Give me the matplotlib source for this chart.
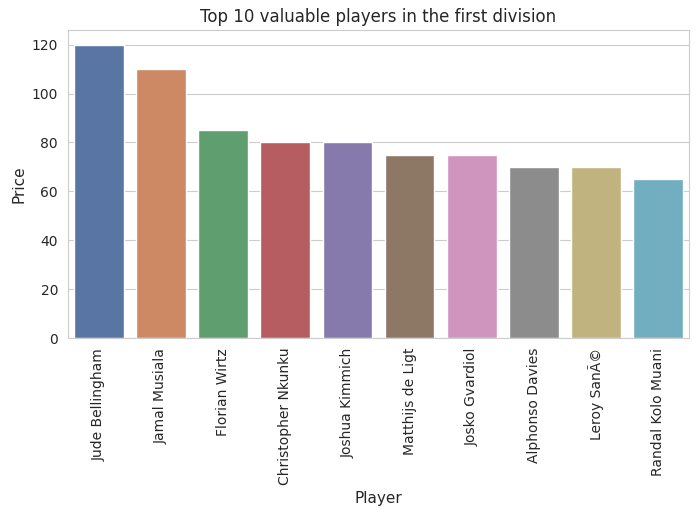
import matplotlib
matplotlib.use("Agg")
import matplotlib.pyplot as plt
import seaborn as sns

players = ["Jude Bellingham", "Jamal Musiala", "Florian Wirtz", "Christopher Nkunku",
           "Joshua Kimmich", "Matthijs de Ligt", "Josko Gvardiol", "Alphonso Davies",
           "Leroy SanÃ©", "Randal Kolo Muani"]
prices = [120, 110, 85, 80, 80, 75, 75, 70, 70, 65]

sns.set_style("whitegrid")
fig, ax = plt.subplots(figsize=(6.99, 5.17), dpi=100)
sns.barplot(x=players, y=prices, hue=players, palette="deep", legend=False, ax=ax)
ax.set_title("Top 10 valuable players in the first division")
ax.set_xlabel("Player", fontsize=11)
ax.set_ylabel("Price", fontsize=11)
plt.xticks(rotation=90)
fig.subplots_adjust(left=0.097, right=0.986, top=0.942, bottom=0.346)
fig.savefig("out.png", dpi=100)
